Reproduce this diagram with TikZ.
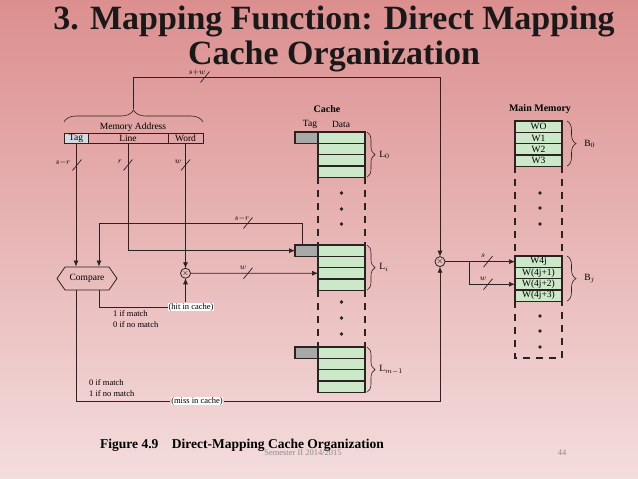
\documentclass[tikz,border=0pt]{standalone}
\usepackage{fontspec}
\setmainfont{Liberation Serif}
\usetikzlibrary{positioning, arrows.meta, calc, shapes.symbols, decorations.pathreplacing}
\definecolor{bgtop}{HTML}{DC8F8F}
\definecolor{bgbot}{HTML}{F4DDDD}
\definecolor{cellgreen}{HTML}{CBE8C8}
\definecolor{taggray}{HTML}{A8A8A8}
\definecolor{fieldblue}{HTML}{D5DBE0}
\definecolor{ink}{HTML}{2B2222}
\newcommand{\cutmark}[1]{\draw[wire] ($(#1)+(-4.5,5.5)$) -- ($(#1)+(4.5,-5.5)$);}

\begin{document}
\begin{tikzpicture}[
        x=1pt, y=-1pt,
        font=\fontsize{9.5}{10}\selectfont,
        datacell/.style  ={draw=ink, line width=1.2pt, fill=cellgreen, minimum width=47,
                           minimum height=11.3, inner sep=0pt, outer sep=0pt},
        tagcell/.style   ={datacell, fill=taggray, minimum width=23},
        field/.style     ={draw=ink, line width=1pt, minimum height=10, inner sep=0pt,
                           outer sep=0pt},
        wire/.style      ={draw=ink, line width=0.7pt},
        arr/.style       ={wire, -{Latex[length=6pt,width=5pt]}},
        colline/.style   ={draw=ink, line width=1.3pt, dash pattern=on 7pt off 6pt},
        brc/.style       ={draw=ink, line width=0.6pt, decorate},
        mux/.style       ={circle, draw=ink, line width=0.8pt, minimum size=10,
                           inner sep=0pt, outer sep=0pt, font=\fontsize{8}{8}\selectfont},
        cmp/.style       ={signal, signal to=west and east, signal pointer angle=110,
                           draw=ink, line width=0.8pt, minimum width=60, minimum height=23,
                           inner sep=1pt},
        flag/.style      ={fill=white, inner sep=0.6pt, font=\fontsize{8.5}{9}\selectfont},
        lbl/.style       ={inner sep=0pt, font=\fontsize{8}{8}\selectfont},
        txt/.style       ={inner sep=0pt, anchor=west, font=\fontsize{8.5}{9}\selectfont},
        head/.style      ={inner sep=0pt, font=\fontsize{10}{10}\selectfont\bfseries},
        title/.style     ={inner sep=0pt, anchor=base, text=black!90,
                           font=\fontsize{34}{34}\selectfont\bfseries}
    ]
      \shade[top color=bgtop, bottom color=bgbot] (0,0) rectangle (638,479);
      \useasboundingbox (0,0) rectangle (638,479);

      % ===== TITLE =====
      \node[title] (t1) at (334,30) {3. Mapping Function: Direct Mapping};
      \node[title] (t2) at (334,64) {Cache Organization};

      % ===== MEMORY ADDRESS =====
      \node[field, fill=fieldblue, minimum width=24] (ftag) at (76,138) {Tag};
      \node[field, minimum width=80, right=0pt of ftag]  (fline) {Line};
      \node[field, minimum width=35, right=0pt of fline] (fword) {Word};
      \node[inner sep=0pt] (addr) at (133,127.5) {Memory Address};
      \draw[brc, decoration={brace, amplitude=12pt}]
            ([yshift=11pt]ftag.north west) -- ([yshift=11pt]fword.north east);
      \coordinate (addrtip) at (133,109);
      \coordinate (top) at (440,77);

      % ===== CACHE =====
      \node[head] (cache) at (327,109) {Cache};
      \node[inner sep=0pt] (ctag)  at (310,124) {Tag};
      \node[inner sep=0pt] (cdata) at (341,124) {Data};
      \node[datacell] (l0a) at (341.5,137.65) {};
      \node[datacell, below=0pt of l0a] (l0b) {};
      \node[datacell, below=0pt of l0b] (l0c) {};
      \node[datacell, below=0pt of l0c] (l0d) {};
      \node[tagcell, left=0pt of l0a]   (t0)  {};
      \node[datacell] (lia) at (341.5,250.65) {};
      \node[datacell, below=0pt of lia] (lib) {};
      \node[datacell, below=0pt of lib] (lic) {};
      \node[datacell, below=0pt of lic] (lid) {};
      \node[tagcell, left=0pt of lia]   (tia) {};
      \node[datacell] (lma) at (341.5,352.65) {};
      \node[datacell, below=0pt of lma] (lmb) {};
      \node[datacell, below=0pt of lmb] (lmc) {};
      \node[datacell, below=0pt of lmc] (lmd) {};
      \node[tagcell, left=0pt of lma]   (tma) {};
      \draw[colline] (l0d.south west) -- (lia.north west);
      \draw[colline] (l0d.south east) -- (lia.north east);
      \draw[colline] (lid.south west) -- (lma.north west);
      \draw[colline] (lid.south east) -- (lma.north east);
      \draw[brc, decoration={brace, amplitude=8pt}] ([xshift=2pt]l0a.north east)
            -- node[right=12pt, inner sep=0pt] {L$_0$} ([xshift=2pt]l0d.south east);
      \draw[brc, decoration={brace, amplitude=8pt}] ([xshift=2pt]lia.north east)
            -- node[right=12pt, inner sep=0pt] {L$_i$} ([xshift=2pt]lid.south east);
      \draw[brc, decoration={brace, amplitude=8pt}] ([xshift=2pt]lma.north east)
            -- node[right=12pt, inner sep=0pt] {L$_{m-1}$} ([xshift=2pt]lmd.south east);
      \fill[ink] (341.5,193) circle (1.8) (341.5,209) circle (1.8) (341.5,224) circle (1.8);
      \fill[ink] (341.5,302) circle (1.8) (341.5,318) circle (1.8) (341.5,334) circle (1.8);

      % ===== MAIN MEMORY =====
      \node[head] (mmem) at (540,109) {Main Memory};
      \node[datacell] (m0) at (538.5,126.65) {WO};
      \node[datacell, below=0pt of m0] (m1) {W1};
      \node[datacell, below=0pt of m1] (m2) {W2};
      \node[datacell, below=0pt of m2] (m3) {W3};
      \node[datacell] (m4) at (538.5,261.65) {W4j};
      \node[datacell, below=0pt of m4] (m5) {W(4j+1)};
      \node[datacell, below=0pt of m5] (m6) {W(4j+2)};
      \node[datacell, below=0pt of m6] (m7) {W(4j+3)};
      \coordinate (mbot) at (538.5,358);
      \draw[colline] (m3.south west) -- (m4.north west);
      \draw[colline] (m3.south east) -- (m4.north east);
      \draw[colline] (m7.south west) |- (mbot) -| (m7.south east);
      \draw[brc, decoration={brace, amplitude=9pt}] ([xshift=5pt]m0.north east)
            -- node[right=17pt, inner sep=0pt] {B$_0$} ([xshift=5pt]m3.south east);
      \draw[brc, decoration={brace, amplitude=9pt}] ([xshift=5pt]m4.north east)
            -- node[right=17pt, inner sep=0pt] {B$_j$} ([xshift=5pt]m7.south east);
      \fill[ink] (540,193) circle (1.8) (540,208) circle (1.8) (540,224) circle (1.8);
      \fill[ink] (540,316) circle (1.8) (540,331) circle (1.8) (540,347) circle (1.8);

      % ===== COMPARE AND SELECT =====
      \node[cmp] (cmp)  at (87,278.5) {Compare};
      \node[mux] (mux1) at (185.5,273.25) {$\times$};
      \node[mux] (mux2) at (440,261.65) {$\times$};
      \coordinate (srcorner) at (99,223);
      \coordinate (split) at (469,261.65);
      \node[flag] (hit)  at (191,307) {(hit in cache)};
      \node[flag] (miss) at (197,401) {(miss in cache)};

      % field lines
      \draw[arr] (ftag.south)  -- (ftag.south |- cmp.north);
      \draw[arr] (fline.south) |- (tia.west);
      \draw[arr] (fword.south) -- (mux1.north);
      \draw[arr] ([xshift=-4.5pt]tia.north) |- (srcorner) -- (srcorner |- cmp.north);
      \draw[arr] (mux1.east) -- (lic.west);
      % s+w address to main memory
      \draw[arr] (addrtip) |- (top) -- (mux2.north);
      \draw[arr] (mux2.east) -- (m4.west);
      \draw[arr] (split) |- (m6.west);
      % compare results
      \draw[wire] (cmp.south -| srcorner) |- (hit.west);
      \draw[arr] (hit.north -| mux1) -- (mux1.south);
      \draw[wire] (cmp.south -| ftag) |- (miss.west);
      \draw[arr] (miss.east) -| (mux2.south);
      \node[txt] at (113,314) {1 if match};
      \node[txt] at (113,325) {0 if no match};
      \node[txt] at (89,383)  {0 if match};
      \node[txt] at (89,394)  {1 if no match};

      % bit widths
      \cutmark{205,77}   \node[lbl] at (197,72) {$s{+}w$};
      \cutmark{77,165}   \node[lbl] at (63,162) {$s{-}r$};
      \cutmark{128,165}  \node[lbl] at (120,162) {$r$};
      \cutmark{185.5,165} \node[lbl] at (178,162) {$w$};
      \cutmark{248,223}  \node[lbl] at (242,218) {$s{-}r$};
      \cutmark{248,273.25} \node[lbl] at (243,268) {$w$};
      \cutmark{488,261.65} \node[lbl] at (483,256) {$s$};
      \cutmark{488,284.25} \node[lbl] at (483,279) {$w$};

      % ===== FOOTER =====
      \node[inner sep=0pt, anchor=west, font=\fontsize{13.5}{14}\selectfont\bfseries]
            (cap) at (100,445) {Figure 4.9\quad Direct-Mapping Cache Organization};
      \node[inner sep=0pt, text=black!45, font=\fontsize{8.5}{9}\selectfont]
            (sem) at (303,452.5) {Semester II 2014/2015};
      \node[inner sep=0pt, text=black!45, font=\fontsize{8.5}{9}\selectfont]
            (page) at (562,452.5) {44};
\end{tikzpicture}
\end{document}
